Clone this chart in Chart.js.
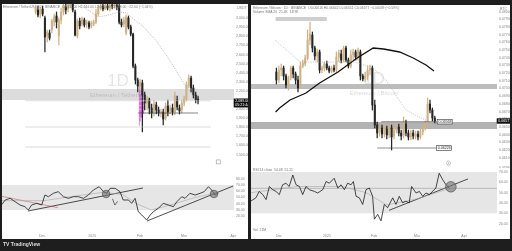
<!DOCTYPE html>
<html>
<head>
<meta charset="utf-8">
<script src="https://cdn.jsdelivr.net/npm/chart.js@4.4.1/dist/chart.umd.min.js"></script>
<style>
  html, body { margin: 0; padding: 0; width: 512px; height: 251px; overflow: hidden; background: #1e1e1e; font-family: "Liberation Sans", Arial, sans-serif; }
  .pane { position: absolute; background: #fff; }
  canvas { position: absolute; }
  .hdr { position: absolute; font-size: 3.4px; color: #777; white-space: nowrap; line-height: 4px; }
  .logo { position: absolute; left: 3px; top: 241px; font-size: 5px; font-weight: bold; color: #ddd; }
</style>
</head>
<body>
<div class="pane" style="left:2px;top:4px;width:246px;height:235px"></div>
<div class="pane" style="left:251px;top:5px;width:259px;height:234px"></div>

<canvas id="lMain" width="246" height="168" style="left:2px;top:4px"></canvas>
<canvas id="lRsi"  width="246" height="67"  style="left:2px;top:172px"></canvas>
<canvas id="rMain" width="259" height="163" style="left:251px;top:5px"></canvas>
<canvas id="rRsi"  width="259" height="71"  style="left:251px;top:168px"></canvas>

<div class="hdr" style="left:3px;top:5px">Ethereum / TetherUS · 1D · BINANCE &nbsp;O2,111.00 H2,144.00 L2,056.00 C2,089.00 −22.00 (−1.04%)</div>
<div class="hdr" style="left:253px;top:6px">Ethereum / Bitcoin · 1D · BINANCE &nbsp;O0.06616 H0.06642 L0.06551 C0.06577 −0.00039 (−0.59%)</div>
<div class="hdr" style="left:253px;top:10px">Volume SMA 20 &nbsp;21.4K &nbsp;18.9K</div>
<div class="hdr" style="left:253px;top:168px">RSI 14 close &nbsp;54.48 &nbsp;51.21</div>
<div class="hdr" style="left:253px;top:228px">Vol &nbsp;21M</div>
<div class="logo">TV TradingView</div>

<script>
// ---------- left: ETH / USDT, daily ----------
const lOpen  = [3068,3090,3046,3101,3002,2804,2837,2870,2958,3024,2804,2980,3068,3123,3101,3145,3156,3068,2804,2969,2936,2980,2936,2947,2914,2936,2958,3046,3112,3134,3101,3134,3112,3145,3134,3145,3134,2958,2936,2837,3002,2903,2826,2474,2320,2254,2287,2155,2067,2100,2012,1968,2045,1990,1957,1968,1902,2034,1979,2012,1968,2100,2012,1990,2067,2111,2254,2342,2232,2155,2111];
const lClose = [3123,3035,3101,3046,2793,2848,2782,2969,3013,2958,2980,3068,3134,3090,3145,3167,3090,2815,2969,2914,2991,2925,2958,2903,2947,2958,3046,3112,3134,3101,3134,3112,3145,3134,3156,3123,2958,2925,2980,3013,2903,2826,2474,2320,2254,2298,2155,2067,2111,2012,1957,2056,1990,1957,1968,1891,2034,1968,2012,1968,2144,2023,1979,2067,2111,2265,2342,2232,2155,2100,2089];
const lHigh  = [3145,3134,3123,3134,3024,2870,2870,2991,3046,3068,3002,3112,3167,3167,3178,3200,3178,3090,2991,3002,3013,3002,2980,2969,2969,2980,3101,3145,3156,3156,3167,3167,3167,3178,3189,3178,3156,2991,3013,3035,3024,2925,2837,2496,2342,2331,2320,2188,2144,2122,2056,2100,2078,2023,2001,2001,2067,2100,2045,2056,2188,2144,2045,2100,2144,2298,2375,2364,2265,2188,2144];
const lLow   = [3046,3013,3002,3024,2628,2738,2760,2837,2914,2892,2705,2936,3035,3046,3068,3112,3068,2804,2782,2881,2914,2903,2892,2881,2892,2914,2936,3024,3090,3079,3090,3090,3079,3101,3112,3090,2936,2903,2903,2815,2881,2804,2452,2276,2188,2210,1748,1990,1990,1946,1902,1924,1946,1924,1913,1825,1880,1924,1946,1935,1935,1990,1946,1957,2034,2089,2232,2188,2122,2067,2056];

const lMaX = [19.7, 20.7, 26.9, 29.3, 36.2, 39, 46.6, 51.7, 56.9, 63.8, 68.3];
const lMaY = [3145, 3123, 3013, 3024, 3068, 3057, 2903, 2760, 2573, 2287, 2133];

const lRsiX = [-4.5,-3.4,-1.7,0,1.7,3.4,4.6,5.7,7.5,9.2,10.3,11.5,13.2,14.9,16.7,18.4,20.1,21.8,23.6,25.3,27,29,30.5,31.6,32.8,34.5,36.2,37.3,39.1,40.2,41.4,42.5,43.7,45.4,46.6,47.7,49.4,51.1,52.9,54.6,55.8,57.5,58.6,60.3,62.1,63.8,65.2,66.7,67.8,69,70.1];
const lRsiY = [39,46,48.7,43.3,38,35.3,30,38,40.7,38,54,51.3,56.7,59.3,51.3,48.7,51.3,51.3,48.7,54,62,67.3,59.3,56.7,64.7,64.7,59.3,46,46,40.7,48.7,27.3,22,14,22,27.3,32.7,40.7,38,35.3,43.3,51.3,48.7,56.7,54,56.7,59.3,67.3,62,54,56.7];
const lRsiMaX = [-4.5, 10, 20, 30, 37, 42, 47, 55, 62, 70];
const lRsiMaY = [45, 45, 52, 58, 55, 40, 30, 40, 50, 58];

const lZone      = [2100, 2221];
const lLevels    = [2092, 1803, 1583];
const lSupport   = [44.1, 70, 1957];
const lVpPrice   = [2232, 2188, 2144, 2100, 2056, 2012, 1968, 1924, 1880, 1836];
const lVpVolume  = [1, 2, 3, 4, 6, 7, 6, 4, 2, 1];
const lTrend1    = [[4.5, 28.4], [44.1, 65.2]];
const lTrend2    = [[45.5, 12.4], [75.2, 68.4]];
const lRedLine   = [[-5.2, 52.4], [14.8, 33.7]];
const lCircles   = [[31.4, 55.6], [68.6, 55.6]];
const lArrow     = [[33.6, 48], [34.4, 38], [35.4, 44]];
const lTimePos   = [9.3, 26.6, 43.1, 58.3, 75.2];
const lTimeLabel = ['Dec', '2025', 'Feb', 'Mar', 'Apr'];

// ---------- right: ETH / BTC, daily ----------
const rOpen  = [0.07214,0.07110,0.07240,0.07266,0.07162,0.07045,0.07136,0.07266,0.07188,0.07110,0.07032,0.07292,0.07318,0.07396,0.07630,0.07695,0.07526,0.07422,0.07474,0.07240,0.07266,0.07318,0.07266,0.07227,0.07266,0.07240,0.07409,0.07448,0.07370,0.07526,0.07370,0.07292,0.07435,0.07474,0.07409,0.07474,0.07162,0.07123,0.07162,0.07240,0.07266,0.06785,0.06525,0.06434,0.06486,0.06408,0.06473,0.06395,0.06486,0.06382,0.06460,0.06499,0.06421,0.06395,0.06538,0.06421,0.06369,0.06421,0.06382,0.06408,0.06369,0.06434,0.06486,0.06538,0.06798,0.06720,0.06616];
const rClose = [0.07110,0.07240,0.07266,0.07162,0.07045,0.07136,0.07266,0.07188,0.07110,0.07006,0.07292,0.07331,0.07396,0.07630,0.07708,0.07526,0.07422,0.07474,0.07240,0.07266,0.07318,0.07266,0.07227,0.07266,0.07240,0.07409,0.07461,0.07370,0.07526,0.07370,0.07292,0.07435,0.07474,0.07409,0.07500,0.07162,0.07123,0.07162,0.07240,0.07266,0.06785,0.06525,0.06421,0.06486,0.06408,0.06473,0.06395,0.06486,0.06369,0.06460,0.06499,0.06421,0.06382,0.06538,0.06421,0.06369,0.06421,0.06382,0.06408,0.06369,0.06434,0.06486,0.06538,0.06798,0.06720,0.06616,0.06577];
const rHigh  = [0.07266,0.07292,0.07318,0.07292,0.07188,0.07162,0.07292,0.07292,0.07214,0.07162,0.07344,0.07370,0.07435,0.07760,0.07864,0.07734,0.07552,0.07513,0.07500,0.07292,0.07344,0.07357,0.07292,0.07292,0.07305,0.07474,0.07500,0.07500,0.07552,0.07552,0.07396,0.07500,0.07513,0.07500,0.07526,0.07500,0.07188,0.07214,0.07292,0.07305,0.07292,0.06850,0.06564,0.06538,0.06525,0.06538,0.06512,0.06564,0.06525,0.06512,0.06564,0.06538,0.06460,0.06629,0.06590,0.06460,0.06460,0.06460,0.06447,0.06447,0.06473,0.06525,0.06577,0.06876,0.06850,0.06746,0.06642];
const rLow   = [0.07058,0.07071,0.07162,0.07110,0.07006,0.06980,0.07110,0.07136,0.07058,0.06954,0.07006,0.07266,0.07292,0.07370,0.07565,0.07474,0.07370,0.07344,0.07201,0.07201,0.07227,0.07240,0.07201,0.07201,0.07214,0.07214,0.07344,0.07331,0.07344,0.07344,0.07266,0.07266,0.07370,0.07370,0.07370,0.07110,0.07097,0.07084,0.07110,0.07175,0.06720,0.06486,0.06356,0.06382,0.06356,0.06369,0.06343,0.06356,0.06200,0.06343,0.06421,0.06382,0.06330,0.06356,0.06382,0.06330,0.06330,0.06343,0.06343,0.06330,0.06343,0.06395,0.06460,0.06512,0.06681,0.06577,0.06551];

const rMa200X = [-0.33, 1.33, 5.67, 12.33, 18, 25.67, 33.67, 40.33, 44.67, 51.33, 57, 62.33, 65.67];
const rMa200Y = [0.06694, 0.06746, 0.06850, 0.06941, 0.07071, 0.07214, 0.07396, 0.07526, 0.07513, 0.07474, 0.07396, 0.07305, 0.07227];
const rMa50X  = [-0.67, 10, 32.3, 39.7, 45.7, 50.3, 54, 59.3, 67];
const rMa50Y  = [0.07630, 0.07344, 0.07344, 0.07279, 0.07110, 0.06889, 0.06720, 0.06629, 0.06525];

const rRsiX = [-0.3,1.3,2.4,3.6,4.7,5.8,6.9,8,9.1,10.2,11.3,12.4,13.6,14.7,15.8,16.9,18,19.1,20.8,21.9,23.6,24.7,25.8,27.4,28.6,29.7,30.8,31.9,33,33.8,34.7,35.8,36.9,38,39.1,40.2,40.8,41.9,43,44.1,45.2,46.9,48,49.1,50.2,51.3,52.4,53.2,54.7,55.8,56.9,58,59.1,61.3,62.4,63.6,64.7,65.8];
const rRsiY = [42,45,51.2,48.1,43.3,56,52.9,51.2,48.1,57.6,59.2,56,67.1,57.6,56,48.1,56,52.9,51.2,49.7,52.9,60.8,59.2,64,54.5,57.6,52.9,59.2,57.6,60.8,46.5,45,38.6,52.9,54.5,46.5,24.3,29,22.7,38.6,35.4,45,38.6,46.5,40.2,41.7,40.2,56,49.7,51.2,46.5,49.7,48.1,54.5,68.8,62.4,57.6,54.5];
const rRsiMaX = [-0.3, 15, 30, 38, 45, 55, 65.8];
const rRsiMaY = [50, 56, 56, 50, 38, 44, 54];

const rZoneTop   = [-0.33, 21, 0.07877, 0.07929];
const rZoneMid   = [0.06993, 0.07058];
const rZoneLow   = [0.06473, 0.06564];
const rLevelA    = [43.7, 67, 0.06568];
const rLevelB    = [42, 66.7, 0.06226];
const rTrend     = [[45.7, 32.9], [72, 63.3]];
const rCircle    = [66.3, 55.7];
const rRsiMid    = 54.2;
const rTimePos   = [9, 25, 40.7, 55, 70.7];
const rTimeLabel = ['Dec', '2025', 'Feb', 'Mar', 'Apr'];

// ---------- helpers ----------
const UP = '#cdb285', DOWN = '#262626';
const AXIS_FONT = { family: 'Liberation Sans', size: 3.5 };
const AXIS_COLOR = '#858585';

function pts(xs, ys) { return xs.map((x, i) => ({ x: x, y: ys[i] })); }
function pairs(arr) { return arr.map(p => ({ x: p[0], y: p[1] })); }

function candleSets(o, h, l, c) {
  const col = o.map((v, i) => c[i] >= v ? UP : DOWN);
  return [
    { type: 'bar', data: l.map((v, i) => ({ x: i, y: [v, h[i]] })), backgroundColor: col,
      barThickness: 0.6, grouped: false, order: 2 },
    { type: 'bar', data: o.map((v, i) => ({ x: i, y: [v, c[i]] })), backgroundColor: col,
      barThickness: 1.4, minBarLength: 0.6, grouped: false, order: 1 }
  ];
}

function line(data, color, width, dash) {
  return { type: 'line', data: data, borderColor: color, borderWidth: width, borderDash: dash || [],
           pointRadius: 0, fill: false, tension: 0, order: 0 };
}

function zonesPlugin(zones) {
  return {
    id: 'zones',
    beforeDatasetsDraw(chart) {
      const { ctx, chartArea: a, scales: { x, y } } = chart;
      ctx.save();
      ctx.beginPath(); ctx.rect(a.left, a.top, a.right - a.left, a.bottom - a.top); ctx.clip();
      zones.forEach(z => {
        const x0 = z.x0 === undefined ? a.left : x.getPixelForValue(z.x0);
        const x1 = z.x1 === undefined ? a.right : x.getPixelForValue(z.x1);
        const y0 = y.getPixelForValue(z.hi), y1 = y.getPixelForValue(z.lo);
        ctx.fillStyle = z.color;
        ctx.fillRect(x0, y0, x1 - x0, y1 - y0);
      });
      ctx.restore();
    }
  };
}

function watermarkPlugin(big, small) {
  return {
    id: 'watermark',
    beforeDatasetsDraw(chart) {
      const { ctx, chartArea: a } = chart;
      const cx = (a.left + a.right) / 2, cy = (a.top + a.bottom) / 2;
      ctx.save();
      ctx.textAlign = 'center'; ctx.textBaseline = 'middle';
      ctx.fillStyle = 'rgba(0,0,0,0.10)';
      ctx.font = '17px "Liberation Sans"';
      ctx.fillText(big, cx, cy - 7);
      ctx.font = '6px "Liberation Sans"';
      ctx.fillStyle = 'rgba(0,0,0,0.16)';
      ctx.fillText(small, cx, cy + 7);
      ctx.restore();
    }
  };
}

function axisUnitPlugin(unit) {
  return {
    id: 'unit',
    afterDraw(chart) {
      const { ctx, chartArea: a } = chart;
      ctx.save();
      ctx.font = '3.6px "Liberation Sans"'; ctx.fillStyle = AXIS_COLOR; ctx.textBaseline = 'middle';
      ctx.fillText(unit, a.right + 3, 4);
      ctx.restore();
    }
  };
}

function tagPlugin(tags) {
  return {
    id: 'tags',
    afterDraw(chart) {
      const { ctx, scales: { x, y } } = chart;
      ctx.save();
      ctx.font = '3.6px "Liberation Sans"'; ctx.textBaseline = 'middle';
      tags.forEach(t => {
        const py = y.getPixelForValue(t.value);
        const px = t.x === undefined ? chart.chartArea.right : x.getPixelForValue(t.x);
        const w = t.w, hgt = t.h;
        ctx.fillStyle = t.bg; ctx.strokeStyle = t.border; ctx.lineWidth = 0.6;
        ctx.fillRect(px, py - hgt / 2, w, hgt);
        ctx.strokeRect(px, py - hgt / 2, w, hgt);
        ctx.fillStyle = t.fg;
        ctx.fillText(t.text, px + 1.2, py + 0.2);
      });
      ctx.restore();
    }
  };
}

function vpPlugin(prices, vols, x0, unit, step) {
  return {
    id: 'vp',
    beforeDatasetsDraw(chart) {
      const { ctx, scales: { x, y } } = chart;
      ctx.save();
      ctx.fillStyle = 'rgba(205,70,205,0.75)';
      prices.forEach((p, i) => {
        const top = y.getPixelForValue(p + step / 2), bot = y.getPixelForValue(p - step / 2);
        const left = x.getPixelForValue(x0), right = x.getPixelForValue(x0 + vols[i] * unit);
        ctx.fillRect(left, top, right - left, bot - top - 0.3);
      });
      ctx.restore();
    }
  };
}

function iconPlugin(kind, fx, fy) {
  return {
    id: 'icon',
    afterDraw(chart) {
      const { ctx, chartArea: a } = chart;
      const px = a.left + fx * (a.right - a.left), py = a.top + fy * (a.bottom - a.top);
      ctx.save(); ctx.strokeStyle = '#999'; ctx.lineWidth = 0.6;
      if (kind === 'square') { ctx.strokeRect(px - 2, py - 2, 4, 4); }
      else { ctx.beginPath(); ctx.arc(px, py, 2, 0, Math.PI * 2); ctx.stroke();
             ctx.beginPath(); ctx.arc(px, py, 0.6, 0, Math.PI * 2); ctx.fillStyle = '#999'; ctx.fill(); }
      ctx.restore();
    }
  };
}

function yAxis(min, max, step, width, fmt, keep) {
  return {
    position: 'right', min: min, max: max,
    grid: { display: false, drawTicks: false }, border: { display: false },
    ticks: {
      stepSize: step, font: AXIS_FONT, color: AXIS_COLOR, padding: 2,
      callback: v => keep(v) ? fmt(v) : null
    },
    afterFit: s => { s.width = width; s.paddingTop = 0; s.paddingBottom = 0; }
  };
}

function xAxis(min, max, pos, labels) {
  if (!pos) {
    return { type: 'linear', min: min, max: max, display: false };
  }
  return {
    type: 'linear', min: min, max: max,
    grid: { display: false, drawTicks: false }, border: { display: false },
    afterBuildTicks: s => { s.ticks = pos.map(v => ({ value: v })); },
    ticks: { autoSkip: false, maxRotation: 0, font: AXIS_FONT, color: AXIS_COLOR, padding: 2,
             callback: (v, i) => labels[i] },
    afterFit: s => { s.height = 7; s.paddingLeft = 0; s.paddingRight = 0; }
  };
}

function make(id, datasets, xs, ys, plugins) {
  return new Chart(document.getElementById(id), {
    data: { datasets: datasets },
    options: {
      responsive: false, animation: false, events: [],
      layout: { padding: 0, autoPadding: false },
      plugins: { legend: { display: false }, tooltip: { enabled: false } },
      scales: { x: xs, y: ys }
    },
    plugins: plugins
  });
}

const usd = v => v.toLocaleString('en-US', { minimumFractionDigits: 2, maximumFractionDigits: 2 });
const btc = v => v.toFixed(5);
const rsiFmt = v => v.toFixed(2);

// ---------- left main ----------
const L_XMIN = -4.5, L_XMAX = 75.5;
make('lMain',
  [
    ...candleSets(lOpen, lHigh, lLow, lClose),
    line(pts(lMaX, lMaY), '#9a9a9a', 0.7, [1, 1.2]),
    ...lLevels.map(v => line([{ x: L_XMIN, y: v }, { x: L_XMAX, y: v }], '#c4c4c4', 0.6)),
    line([{ x: lSupport[0], y: lSupport[2] }, { x: lSupport[1], y: lSupport[2] }], '#333', 0.6)
  ],
  xAxis(L_XMIN, L_XMAX),
  yAxis(1308, 3156, 100, 14, usd, v => Math.round(v) <= 3000 && Math.round(v) >= 1500),
  [
    zonesPlugin([{ lo: lZone[0], hi: lZone[1], color: '#dcdcdc' }]),
    watermarkPlugin('1D', 'Ethereum / TetherUS'),
    vpPlugin(lVpPrice, lVpVolume, 44.5, 0.38, 44),
    axisUnitPlugin('USDT'),
    tagPlugin([{ value: lClose[lClose.length - 1], text: usd(lClose[lClose.length - 1]), w: 14, h: 4.2, bg: '#111', border: '#111', fg: '#fff' },
               { value: lClose[lClose.length - 1] - 45, text: '05:21:44', w: 14, h: 4, bg: '#111', border: '#111', fg: '#fff' }]),
    iconPlugin('square', 0.932, 0.94)
  ]);

// ---------- left RSI ----------
make('lRsi',
  [
    line(pts(lRsiX, lRsiY), '#1a1a1a', 0.8),
    line(pts(lRsiMaX, lRsiMaY), '#a8a8a8', 0.6),
    line(pairs(lRedLine), 'rgba(190,70,80,0.85)', 0.6),
    line(pairs(lTrend1), '#222', 0.8),
    line(pairs(lTrend2), '#222', 0.8),
    line(pairs(lArrow), '#333', 0.7),
    { type: 'bubble', data: lCircles.map(p => ({ x: p[0], y: p[1], r: 3.8 })),
      backgroundColor: 'rgba(120,120,120,0.65)', borderColor: '#444', borderWidth: 0.6, order: -1 }
  ],
  xAxis(L_XMIN, L_XMAX, lTimePos, lTimeLabel),
  yAxis(-5.2, 90.8, 10, 14, rsiFmt, v => v >= 20 && v <= 80),
  [zonesPlugin([{ lo: 30, hi: 70, color: '#e6e6e6' }])]);

// ---------- right main ----------
const R_XMIN = -0.33, R_XMAX = 81.67;
make('rMain',
  [
    ...candleSets(rOpen, rHigh, rLow, rClose),
    line(pts(rMa50X, rMa50Y), '#a0a0a0', 0.6, [1, 1.2]),
    line(pts(rMa200X, rMa200Y), '#111', 1.3),
    line([{ x: rLevelA[0], y: rLevelA[2] }, { x: rLevelA[1], y: rLevelA[2] }], '#444', 0.6),
    line([{ x: rLevelB[0], y: rLevelB[2] }, { x: rLevelB[1], y: rLevelB[2] }], '#444', 0.6)
  ],
  xAxis(R_XMIN, R_XMAX),
  yAxis(0.05966, 0.08085, 0.001, 13, btc, v => v <= 0.0801),
  [
    zonesPlugin([{ x0: rZoneTop[0], x1: rZoneTop[1], lo: rZoneTop[2], hi: rZoneTop[3], color: '#cfcfcf' },
                 { lo: rZoneMid[0], hi: rZoneMid[1], color: '#bdbdbd' },
                 { lo: rZoneLow[0], hi: rZoneLow[1], color: '#b3b3b3' }]),
    watermarkPlugin('1D', 'Ethereum / Bitcoin'),
    axisUnitPlugin('BTC'),
    tagPlugin([{ x: rLevelA[1], value: rLevelA[2], text: btc(rLevelA[2]), w: 15, h: 4.6, bg: '#fff', border: '#333', fg: '#222' },
               { x: rLevelB[1], value: rLevelB[2], text: btc(rLevelB[2]), w: 15, h: 4.6, bg: '#fff', border: '#333', fg: '#222' },
               { value: rClose[rClose.length - 1], text: btc(rClose[rClose.length - 1]), w: 13, h: 4.6, bg: '#111', border: '#111', fg: '#fff' }]),
    iconPlugin('circle', 0.803, 0.97)
  ]);

// ---------- right RSI ----------
make('rRsi',
  [
    line(pts(rRsiX, rRsiY), '#1a1a1a', 0.8),
    line(pts(rRsiMaX, rRsiMaY), '#a8a8a8', 0.6),
    line([{ x: R_XMIN, y: rRsiMid }, { x: R_XMAX, y: rRsiMid }], '#9c9c9c', 0.6),
    line(pairs(rTrend), '#222', 0.8),
    { type: 'bubble', data: [{ x: rCircle[0], y: rCircle[1], r: 5.3 }],
      backgroundColor: 'rgba(120,120,120,0.65)', borderColor: '#444', borderWidth: 0.6, order: -1 }
  ],
  xAxis(R_XMIN, R_XMAX, rTimePos, rTimeLabel),
  yAxis(11.9, 73.9, 10, 13, rsiFmt, v => v >= 20 && v <= 70),
  [zonesPlugin([{ lo: 30, hi: 70, color: '#e6e6e6' }])]);
</script>
</body>
</html>
